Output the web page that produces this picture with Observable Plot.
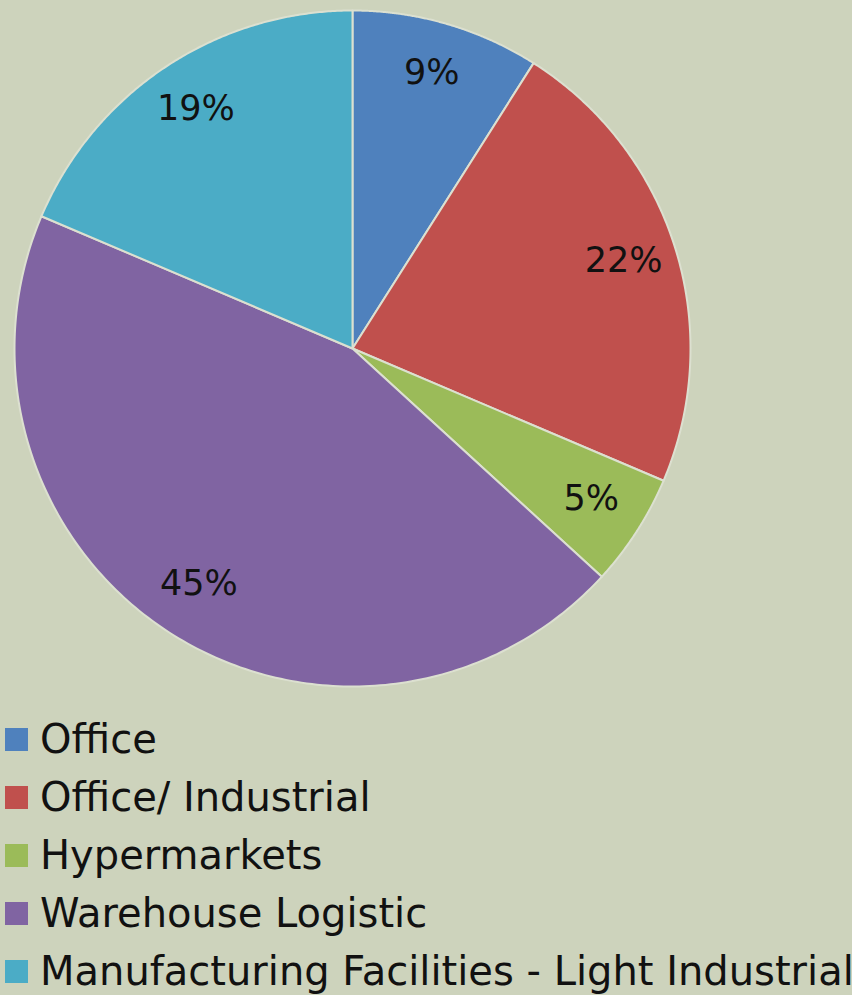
<!DOCTYPE html>
<html>
<head>
<meta charset="utf-8">
<script src="https://cdn.jsdelivr.net/npm/d3@7"></script>
<script src="https://cdn.jsdelivr.net/npm/@observablehq/plot@0.6"></script>
<style>
  html, body { margin: 0; padding: 0; background: #CDD3BC; }
  #chart svg { display: block; background: #CDD3BC; }
  #legend { font-family: "DejaVu Sans", sans-serif; font-size: 40px; color: #111; }
  .row { height: 58px; display: flex; align-items: center; white-space: nowrap; }
  .sw { width: 23px; height: 23px; margin-left: 5px; margin-right: 12px; flex: none; }
</style>
</head>
<body>
<div id="chart"></div>
<div id="legend"></div>
<script>
const categories = ["Office", "Office/ Industrial", "Hypermarkets", "Warehouse Logistic", "Manufacturing Facilities - Light Industrial"];
const shares = [9, 22.4, 5.4, 44.6, 18.6];
const labels = ["9%", "22%", "5%", "45%", "19%"];
const colors = ["#4F81BD", "#C0504D", "#9BBB59", "#8064A2", "#4BACC6"];

const arcs = d3.pie().sort(null).value(d => d)(shares);
const pts = [];
const labelPts = [];
arcs.forEach((a, i) => {
  const cat = categories[i];
  pts.push({cat, x: 0, y: 0});
  const n = 180;
  for (let k = 0; k <= n; k++) {
    const t = a.startAngle + (a.endAngle - a.startAngle) * k / n;
    pts.push({cat, x: Math.sin(t), y: Math.cos(t)});
  }
  pts.push({cat, x: 0, y: 0});
  const m = (a.startAngle + a.endAngle) / 2;
  labelPts.push({text: labels[i], x: 0.84 * Math.sin(m), y: 0.84 * Math.cos(m)});
});

const cx = 352, cy = 348, R = 338;
const plot = Plot.plot({
  width: 852,
  height: 710,
  margin: 0,
  style: {background: "#CDD3BC"},
  x: {domain: [-1, 1], range: [cx - R, cx + R], axis: null},
  y: {domain: [-1, 1], range: [cy + R, cy - R], axis: null},
  color: {domain: categories, range: colors},
  marks: [
    Plot.line(pts, {x: "x", y: "y", z: "cat", fill: "cat", stroke: "#DCE0D0", strokeWidth: 2, curve: "linear"}),
    Plot.text(labelPts, {x: "x", y: "y", text: "text", fontSize: 35, fill: "#111", fontFamily: "DejaVu Sans, sans-serif", dy: -3})
  ]
});
document.getElementById("chart").appendChild(plot);

const legend = document.getElementById("legend");
categories.forEach((c, i) => {
  const row = document.createElement("div");
  row.className = "row";
  const sw = document.createElement("span");
  sw.className = "sw";
  sw.style.background = colors[i];
  const t = document.createElement("span");
  t.textContent = c;
  row.appendChild(sw);
  row.appendChild(t);
  legend.appendChild(row);
});
</script>
</body>
</html>
